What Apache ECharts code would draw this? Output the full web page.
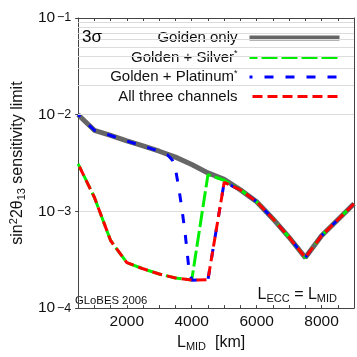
<!DOCTYPE html>
<html>
<head>
<meta charset="utf-8">
<script src="https://cdn.jsdelivr.net/npm/echarts@6/dist/echarts.min.js"></script>
<style>
html, body { margin: 0; padding: 0; background: #fff; }
#container { width: 357px; height: 357px; }
</style>
</head>
<body>
<div id="container"></div>
<script>
// baseline L_MID [km]
var distances = [500, 1000, 1500, 2000, 2500, 3000, 3500, 4000, 4500, 5000, 5500, 6000, 6500, 7000, 7500, 8000, 8500, 9000];
var goldenOnly = [1.0e-2, 6.9e-3, 6.1e-3, 5.35e-3, 4.75e-3, 4.19e-3, 3.64e-3, 3.05e-3, 2.5e-3, 2.15e-3, 1.67e-3, 1.26e-3, 8.4e-4, 5.4e-4, 3.33e-4, 5.6e-4, 8.2e-4, 1.2e-3];
var goldenSilver = [3.1e-3, 1.4e-3, 5.0e-4, 2.95e-4, 2.55e-4, 2.25e-4, 2.05e-4, 1.95e-4, 2.4e-3, 2.1e-3, 1.67e-3, 1.26e-3, 8.4e-4, 5.4e-4, 3.33e-4, 5.6e-4, 8.2e-4, 1.2e-3];
var allThree = [3.1e-3, 1.4e-3, 5.0e-4, 2.95e-4, 2.55e-4, 2.25e-4, 2.05e-4, 1.95e-4, 1.97e-4, 2.0e-3, 1.67e-3, 1.26e-3, 8.4e-4, 5.4e-4, 3.33e-4, 5.6e-4, 8.2e-4, 1.2e-3];
// platinum curve is sampled finer around the drop
var platinumDistances = [500, 1000, 1500, 2000, 2500, 3000, 3250, 3400, 3500, 3600, 3700, 3800, 3900, 4000, 4500, 5000, 5500, 6000, 6500, 7000, 7500, 8000, 8500, 9000];
var goldenPlatinum = [1.0e-2, 6.9e-3, 6.1e-3, 5.35e-3, 4.75e-3, 4.19e-3, 3.85e-3, 3.4e-3, 2.75e-3, 1.75e-3, 1.05e-3, 5.8e-4, 2.8e-4, 1.94e-4, 1.97e-4, 2.0e-3, 1.67e-3, 1.26e-3, 8.4e-4, 5.4e-4, 3.33e-4, 5.6e-4, 8.2e-4, 1.2e-3];

var seriesNames = ['Golden only', 'Golden + Silver*', 'Golden + Platinum*', 'All three channels'];
var xLabels = [2000, 4000, 6000, 8000];
var gridValues = [2e-4, 3e-4, 4e-4, 5e-4, 6e-4, 7e-4, 8e-4, 9e-4,
	2e-3, 3e-3, 4e-3, 5e-3, 6e-3, 7e-3, 8e-3, 9e-3,
	2e-2, 3e-2, 4e-2, 5e-2, 6e-2, 7e-2, 8e-2, 9e-2];

function pairs(xs, ys) {
	var out = [];
	for (var i = 0; i < xs.length; i++) out.push([xs[i], ys[i]]);
	return out;
}

var dom = document.getElementById('container');
var myChart = echarts.init(dom);
var axisColor = '#444';
var font = 'Liberation Sans';

var option = {
	animation: false,
	backgroundColor: '#fff',
	textStyle: { fontFamily: font },
	grid: { left: 65, right: 1, top: 18, bottom: 47 },
	legend: {
		orient: 'vertical',
		right: 15,
		top: 30,
		padding: 0,
		align: 'right',
		itemWidth: 90,
		itemHeight: 8,
		itemGap: 3.5,
		selectedMode: false,
		data: seriesNames,
		itemStyle: { opacity: 0 },
		lineStyle: { width: 'inherit' },
		formatter: function (name) {
			if (name.slice(-1) === '*') return '{t|' + name.slice(0, -1) + '}{s|*}';
			return '{t|' + name + '}';
		},
		textStyle: {
			fontFamily: font,
			fontSize: 15,
			color: '#111',
			lineHeight: 16,
			padding: [0, 7, 0, 0],
			rich: {
				t: { fontSize: 15, fontFamily: font, color: '#111', lineHeight: 16 },
				s: { fontSize: 9, fontFamily: font, color: '#111', lineHeight: 16, verticalAlign: 'top' }
			}
		}
	},
	xAxis: [{
		type: 'value',
		min: 500,
		max: 9000,
		interval: 500,
		position: 'bottom',
		axisLine: { lineStyle: { color: axisColor } },
		axisTick: { inside: true, length: 3, lineStyle: { color: axisColor } },
		splitLine: { show: false },
		axisLabel: {
			margin: 6,
			fontSize: 15.5,
			color: '#111',
			fontFamily: font,
			formatter: function (v) { return xLabels.indexOf(v) >= 0 ? String(v) : ''; }
		},
		name: '{a|L}{b|MID}{a|  [km]}',
		nameLocation: 'middle',
		nameGap: 25,
		nameTextStyle: {
			padding: [0, 10, 0, 0],
			rich: {
				a: { fontSize: 16, fontFamily: font, color: '#111' },
				b: { fontSize: 11, fontFamily: font, color: '#111', padding: [7, 0, 0, 0] }
			}
		}
	}, {
		type: 'value',
		min: 500,
		max: 9000,
		interval: 500,
		position: 'top',
		axisLine: { lineStyle: { color: axisColor } },
		axisTick: { inside: true, length: 3, lineStyle: { color: axisColor } },
		axisLabel: { show: false },
		splitLine: { show: false }
	}],
	yAxis: [{
		// mantissa "10" of the decade labels
		type: 'log',
		logBase: 10,
		min: 1e-4,
		max: 1e-1,
		splitNumber: 3,
		axisLine: { show: true, lineStyle: { color: axisColor } },
		axisTick: { show: true, length: 3, lineStyle: { color: axisColor } },
		splitLine: { show: true, lineStyle: { color: '#dcdcdc', width: 1 } },
		axisLabel: {
			margin: 23,
			fontSize: 15.5,
			color: '#111',
			fontFamily: font,
			padding: [5, 0, 0, 0],
			formatter: function () { return '10'; }
		},
		name: '{a|sin}{p|2}{a|2\u03b8}{d|13}{a| sensitivity limit}',
		nameLocation: 'middle',
		nameGap: 42,
		nameTextStyle: {
			rich: {
				a: { fontSize: 16, fontFamily: font, color: '#111' },
				p: { fontSize: 11, fontFamily: font, color: '#111', padding: [0, 0, 9, 0] },
				d: { fontSize: 11, fontFamily: font, color: '#111', padding: [7, 0, 0, 0] }
			}
		}
	}, {
		type: 'log',
		logBase: 10,
		min: 1e-4,
		max: 1e-1,
		position: 'right',
		axisLine: { show: true, lineStyle: { color: axisColor } },
		axisTick: { show: false },
		axisLabel: { show: false },
		splitLine: { show: false }
	}, {
		// exponent of the decade labels
		type: 'log',
		logBase: 10,
		min: 1e-4,
		max: 1e-1,
		splitNumber: 3,
		position: 'left',
		axisLine: { show: false },
		axisTick: { show: false },
		splitLine: { show: false },
		axisLabel: {
			margin: 7,
			fontSize: 12.5,
			color: '#111',
			fontFamily: font,
			padding: [0, 0, 7, 0],
			formatter: function (v) { return '\u2212' + (-Math.round(Math.log10(v))); }
		}
	}],
	graphic: [{
		type: 'text',
		left: 82,
		top: 29,
		z: 10,
		style: {
			text: '3\u03c3',
			fontSize: 17,
			fontFamily: font,
			fill: '#000'
		}
	}, {
		type: 'text',
		left: 75,
		top: 295,
		style: { text: 'GLoBES 2006', fontSize: 11.3, fontFamily: font, fill: '#111' }
	}, {
		type: 'text',
		right: 20,
		top: 287,
		style: {
			text: '{a|L}{b|ECC}{a| = L}{b|MID}',
			rich: {
				a: { fontSize: 16, fontFamily: font, fill: '#111' },
				b: { fontSize: 11, fontFamily: font, fill: '#111', padding: [7, 0, 0, 0] }
			}
		}
	}],
	series: [{
		name: 'grid',
		type: 'line',
		data: [],
		z: 1,
		silent: true,
		markLine: {
			silent: true,
			symbol: ['none', 'none'],
			label: { show: false },
			lineStyle: { color: '#dcdcdc', width: 1, type: 'solid' },
			data: gridValues.map(function (v) { return { yAxis: v }; })
		}
	}, {
		name: seriesNames[0],
		type: 'line',
		symbol: 'none',
		z: 2,
		lineStyle: { color: '#666', width: 5, cap: 'butt' },
		itemStyle: { color: '#666' },
		data: pairs(distances, goldenOnly)
	}, {
		name: seriesNames[1],
		type: 'line',
		symbol: 'none',
		z: 3,
		lineStyle: { color: '#00ee00', width: 3, type: [16, 4], dashOffset: 8, cap: 'butt' },
		itemStyle: { color: '#00ee00' },
		data: pairs(distances, goldenSilver)
	}, {
		name: seriesNames[2],
		type: 'line',
		symbol: 'none',
		z: 4,
		lineStyle: { color: '#0000ff', width: 3, type: [9, 12], dashOffset: 6, cap: 'butt' },
		itemStyle: { color: '#0000ff' },
		data: pairs(platinumDistances, goldenPlatinum)
	}, {
		name: seriesNames[3],
		type: 'line',
		symbol: 'none',
		z: 5,
		lineStyle: { color: '#ff0000', width: 3, type: [10, 5], dashOffset: 12, cap: 'butt' },
		itemStyle: { color: '#ff0000' },
		data: pairs(distances, allThree)
	}]
};

myChart.setOption(option);
</script>
</body>
</html>
